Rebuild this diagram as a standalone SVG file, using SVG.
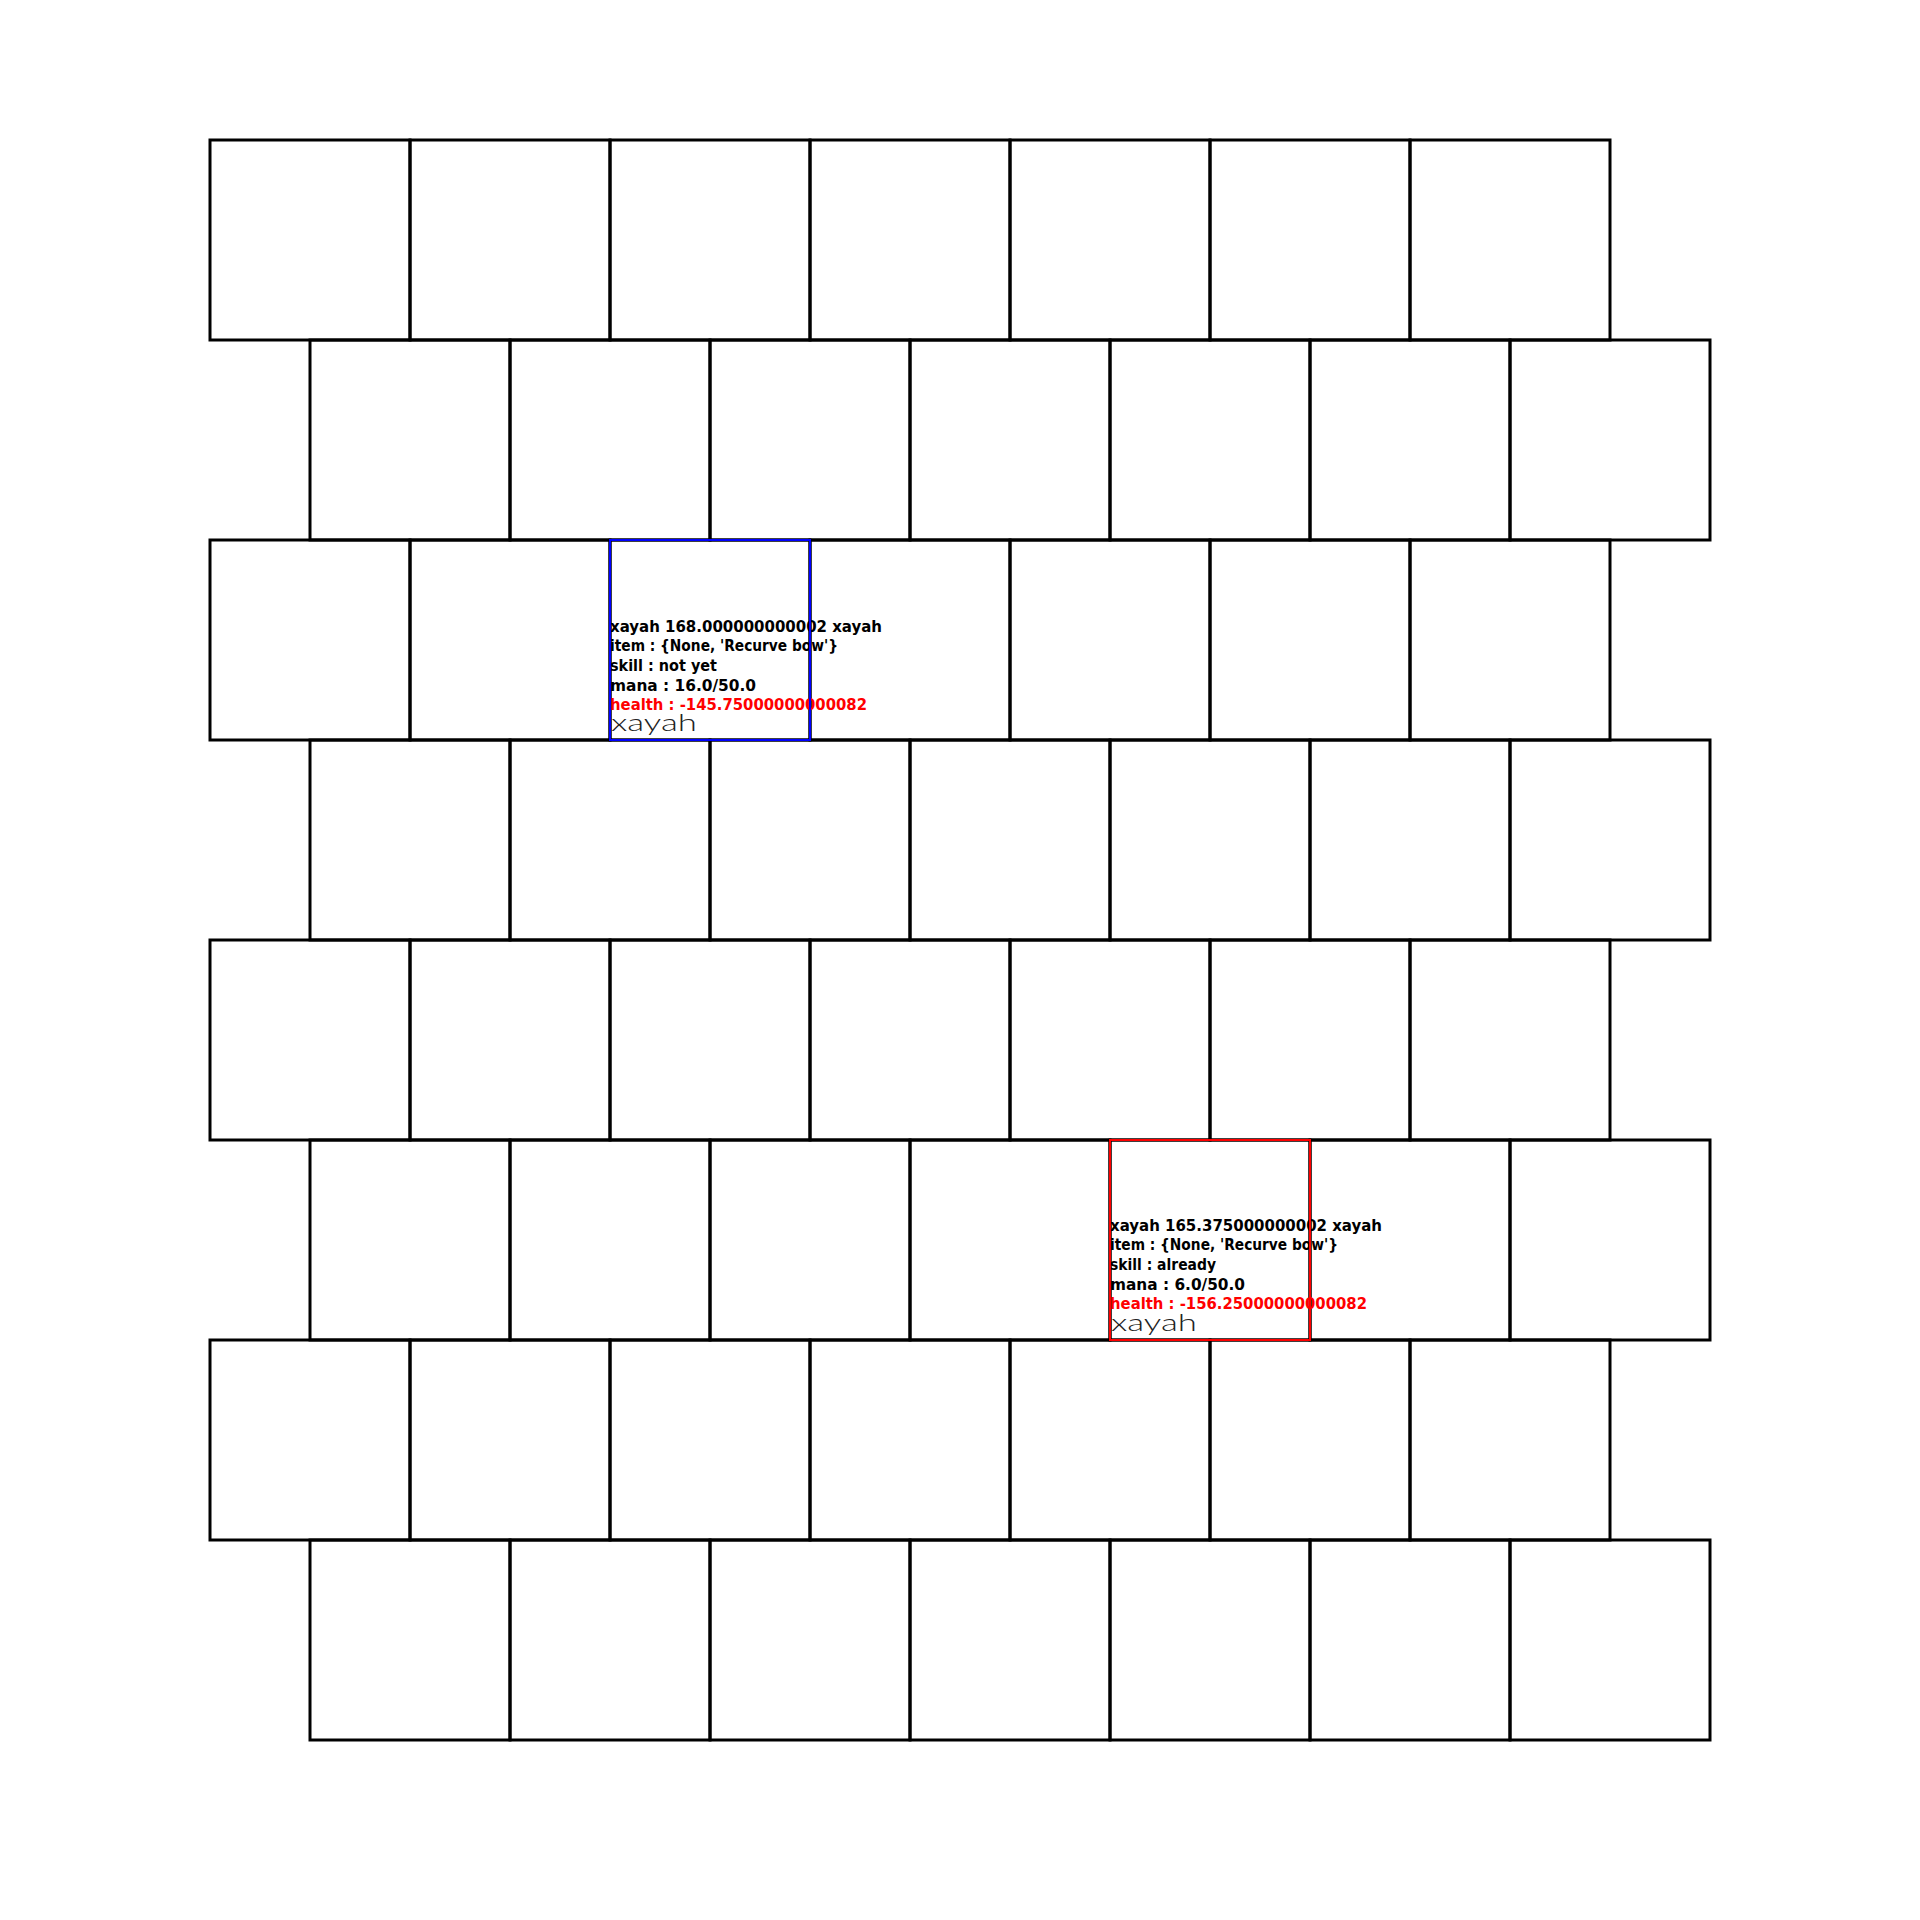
<svg xmlns="http://www.w3.org/2000/svg" width="1920" height="1920" viewBox="0 0 1920 1920">
<style>
.cell{fill:none;stroke:#000;stroke-width:3}
.info{font-family:"DejaVu Sans","Liberation Sans",sans-serif;font-weight:bold;font-size:16px;fill:#000}
.hp{fill:#f00}
.name{font-family:Lato,"DejaVu Sans",sans-serif;font-weight:300;font-size:24px;fill:#222}
.sel-blue{fill:none;stroke:#0000ff;stroke-width:2}
.sel-red{fill:none;stroke:#ff0000;stroke-width:2}
</style>
<rect x="0" y="0" width="1920" height="1920" fill="#fff"/>
<g id="grid">
<g id="row0">
<g id="cell-0-0"><rect class="cell" x="210" y="140" width="200" height="200"/></g>
<g id="cell-0-1"><rect class="cell" x="410" y="140" width="200" height="200"/></g>
<g id="cell-0-2"><rect class="cell" x="610" y="140" width="200" height="200"/></g>
<g id="cell-0-3"><rect class="cell" x="810" y="140" width="200" height="200"/></g>
<g id="cell-0-4"><rect class="cell" x="1010" y="140" width="200" height="200"/></g>
<g id="cell-0-5"><rect class="cell" x="1210" y="140" width="200" height="200"/></g>
<g id="cell-0-6"><rect class="cell" x="1410" y="140" width="200" height="200"/></g>
</g>
<g id="row1">
<g id="cell-1-0"><rect class="cell" x="310" y="340" width="200" height="200"/></g>
<g id="cell-1-1"><rect class="cell" x="510" y="340" width="200" height="200"/></g>
<g id="cell-1-2"><rect class="cell" x="710" y="340" width="200" height="200"/></g>
<g id="cell-1-3"><rect class="cell" x="910" y="340" width="200" height="200"/></g>
<g id="cell-1-4"><rect class="cell" x="1110" y="340" width="200" height="200"/></g>
<g id="cell-1-5"><rect class="cell" x="1310" y="340" width="200" height="200"/></g>
<g id="cell-1-6"><rect class="cell" x="1510" y="340" width="200" height="200"/></g>
</g>
<g id="row2">
<g id="cell-2-0"><rect class="cell" x="210" y="540" width="200" height="200"/></g>
<g id="cell-2-1"><rect class="cell" x="410" y="540" width="200" height="200"/></g>
<g id="cell-2-2"><rect class="cell" x="610" y="540" width="200" height="200"/></g>
<g id="cell-2-3"><rect class="cell" x="810" y="540" width="200" height="200"/></g>
<g id="cell-2-4"><rect class="cell" x="1010" y="540" width="200" height="200"/></g>
<g id="cell-2-5"><rect class="cell" x="1210" y="540" width="200" height="200"/></g>
<g id="cell-2-6"><rect class="cell" x="1410" y="540" width="200" height="200"/></g>
</g>
<g id="row3">
<g id="cell-3-0"><rect class="cell" x="310" y="740" width="200" height="200"/></g>
<g id="cell-3-1"><rect class="cell" x="510" y="740" width="200" height="200"/></g>
<g id="cell-3-2"><rect class="cell" x="710" y="740" width="200" height="200"/></g>
<g id="cell-3-3"><rect class="cell" x="910" y="740" width="200" height="200"/></g>
<g id="cell-3-4"><rect class="cell" x="1110" y="740" width="200" height="200"/></g>
<g id="cell-3-5"><rect class="cell" x="1310" y="740" width="200" height="200"/></g>
<g id="cell-3-6"><rect class="cell" x="1510" y="740" width="200" height="200"/></g>
</g>
<g id="row4">
<g id="cell-4-0"><rect class="cell" x="210" y="940" width="200" height="200"/></g>
<g id="cell-4-1"><rect class="cell" x="410" y="940" width="200" height="200"/></g>
<g id="cell-4-2"><rect class="cell" x="610" y="940" width="200" height="200"/></g>
<g id="cell-4-3"><rect class="cell" x="810" y="940" width="200" height="200"/></g>
<g id="cell-4-4"><rect class="cell" x="1010" y="940" width="200" height="200"/></g>
<g id="cell-4-5"><rect class="cell" x="1210" y="940" width="200" height="200"/></g>
<g id="cell-4-6"><rect class="cell" x="1410" y="940" width="200" height="200"/></g>
</g>
<g id="row5">
<g id="cell-5-0"><rect class="cell" x="310" y="1140" width="200" height="200"/></g>
<g id="cell-5-1"><rect class="cell" x="510" y="1140" width="200" height="200"/></g>
<g id="cell-5-2"><rect class="cell" x="710" y="1140" width="200" height="200"/></g>
<g id="cell-5-3"><rect class="cell" x="910" y="1140" width="200" height="200"/></g>
<g id="cell-5-4"><rect class="cell" x="1110" y="1140" width="200" height="200"/></g>
<g id="cell-5-5"><rect class="cell" x="1310" y="1140" width="200" height="200"/></g>
<g id="cell-5-6"><rect class="cell" x="1510" y="1140" width="200" height="200"/></g>
</g>
<g id="row6">
<g id="cell-6-0"><rect class="cell" x="210" y="1340" width="200" height="200"/></g>
<g id="cell-6-1"><rect class="cell" x="410" y="1340" width="200" height="200"/></g>
<g id="cell-6-2"><rect class="cell" x="610" y="1340" width="200" height="200"/></g>
<g id="cell-6-3"><rect class="cell" x="810" y="1340" width="200" height="200"/></g>
<g id="cell-6-4"><rect class="cell" x="1010" y="1340" width="200" height="200"/></g>
<g id="cell-6-5"><rect class="cell" x="1210" y="1340" width="200" height="200"/></g>
<g id="cell-6-6"><rect class="cell" x="1410" y="1340" width="200" height="200"/></g>
</g>
<g id="row7">
<g id="cell-7-0"><rect class="cell" x="310" y="1540" width="200" height="200"/></g>
<g id="cell-7-1"><rect class="cell" x="510" y="1540" width="200" height="200"/></g>
<g id="cell-7-2"><rect class="cell" x="710" y="1540" width="200" height="200"/></g>
<g id="cell-7-3"><rect class="cell" x="910" y="1540" width="200" height="200"/></g>
<g id="cell-7-4"><rect class="cell" x="1110" y="1540" width="200" height="200"/></g>
<g id="cell-7-5"><rect class="cell" x="1310" y="1540" width="200" height="200"/></g>
<g id="cell-7-6"><rect class="cell" x="1510" y="1540" width="200" height="200"/></g>
</g>
</g>
<g id="connectors"></g>
<g id="unit-blue">
<text class="info" x="610" y="632" textLength="272" lengthAdjust="spacingAndGlyphs">xayah 168.000000000002 xayah</text>
<text class="info" x="610" y="651" textLength="228" lengthAdjust="spacingAndGlyphs">item : {None, 'Recurve bow'}</text>
<text class="info" x="610" y="671" textLength="107" lengthAdjust="spacingAndGlyphs">skill : not yet</text>
<text class="info" x="610" y="691" textLength="146" lengthAdjust="spacingAndGlyphs">mana : 16.0/50.0</text>
<text class="info hp" x="610" y="710" textLength="257" lengthAdjust="spacingAndGlyphs">health : -145.75000000000082</text>
<text class="name" x="611" y="731" textLength="86" lengthAdjust="spacingAndGlyphs">xayah</text>
<rect class="sel-blue" x="610" y="540" width="200" height="200"/>
</g>
<g id="unit-red">
<text class="info" x="1110" y="1231" textLength="272" lengthAdjust="spacingAndGlyphs">xayah 165.375000000002 xayah</text>
<text class="info" x="1110" y="1250" textLength="228" lengthAdjust="spacingAndGlyphs">item : {None, 'Recurve bow'}</text>
<text class="info" x="1110" y="1270" textLength="106" lengthAdjust="spacingAndGlyphs">skill : already</text>
<text class="info" x="1110" y="1290" textLength="135" lengthAdjust="spacingAndGlyphs">mana : 6.0/50.0</text>
<text class="info hp" x="1110" y="1309" textLength="257" lengthAdjust="spacingAndGlyphs">health : -156.25000000000082</text>
<text class="name" x="1111" y="1331" textLength="86" lengthAdjust="spacingAndGlyphs">xayah</text>
<rect class="sel-red" x="1110" y="1140" width="200" height="200"/>
</g>
</svg>
